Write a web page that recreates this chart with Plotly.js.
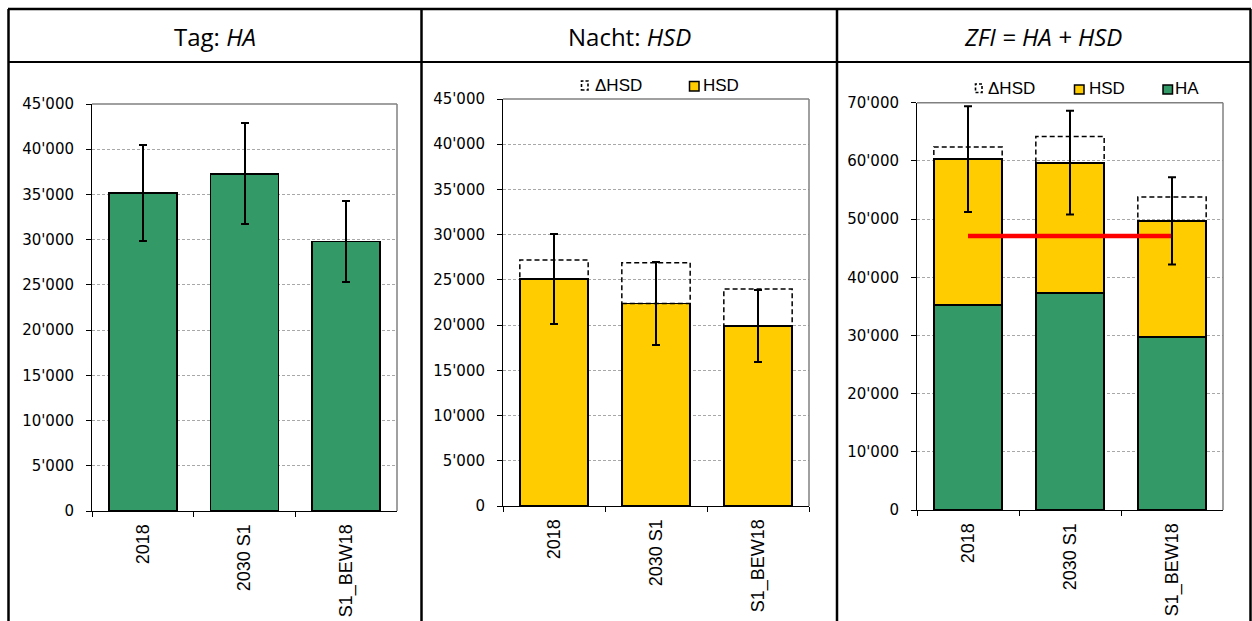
<!DOCTYPE html>
<html>
<head>
<meta charset="utf-8">
<script src="https://cdn.plot.ly/plotly-3.0.1.min.js"></script>
<style>
  html, body { margin: 0; padding: 0; background: #ffffff; }
  #chart { width: 1252px; height: 621px; }
</style>
</head>
<body>
<div id="chart"></div>
<script>
// Scenario categories
const categories = ['2018', '2030 S1', 'S1_BEW18'];

// Day: highly annoyed (HA)
const haValues = [35200, 37300, 29800];
const haError = [5300, 5600, 4450];

// Night: highly sleep disturbed (HSD)
const hsdValues = [25100, 22400, 19900];
const hsdError = [5000, 4550, 4000];
const deltaHsd = [2100, 4500, 4100];

// Combined ZFI = HA + HSD
const zfiError = [9100, 8900, 7500];
const zfiReference = 47100;

// Texts
const panelTitles = ['Tag: <i>HA</i>', 'Nacht: <i>HSD</i>', '<i>ZFI = HA + HSD</i>'];
const legendLabels = ['ΔHSD', 'HSD', 'HA'];

const W = 1252, H = 621;
const GREEN = '#339966';
const YELLOW = '#FFCC00';
const BAR_W = 0.67;

const px = x => x / W;
const py = y => 1 - y / H;

// Plot-area boxes in pixels: [left, right, top, bottom]
const boxes = [
  [92, 397, 104, 511],
  [503, 809, 99, 506],
  [917, 1223, 102.7, 510]
];

const zfiTotals = haValues.map((v, i) => v + hsdValues[i]);

const errStyle = arr => ({ type: 'data', array: arr, visible: true, color: '#000', thickness: 2, width: 4 });
const barLine = { color: '#000', width: 1.8 };

const traces = [
  { type: 'bar', x: categories, y: haValues, xaxis: 'x', yaxis: 'y', width: BAR_W,
    marker: { color: GREEN, line: barLine }, error_y: errStyle(haError), hoverinfo: 'y' },
  { type: 'bar', x: categories, y: hsdValues, xaxis: 'x2', yaxis: 'y2', width: BAR_W,
    marker: { color: YELLOW, line: barLine }, error_y: errStyle(hsdError), hoverinfo: 'y' },
  { type: 'bar', x: categories, y: haValues, xaxis: 'x3', yaxis: 'y3', width: BAR_W,
    marker: { color: GREEN, line: barLine }, hoverinfo: 'y' },
  { type: 'bar', x: categories, y: hsdValues, xaxis: 'x3', yaxis: 'y3', width: BAR_W,
    marker: { color: YELLOW, line: barLine }, hoverinfo: 'y' },
  { type: 'scatter', mode: 'lines', x: [categories[0], categories[2]], y: [zfiReference, zfiReference],
    xaxis: 'x3', yaxis: 'y3', line: { color: '#ff0000', width: 4.5 }, hoverinfo: 'y' },
  { type: 'scatter', mode: 'markers', x: categories, y: zfiTotals, xaxis: 'x3', yaxis: 'y3',
    marker: { size: 2, opacity: 0 }, error_y: errStyle(zfiError), hoverinfo: 'y' }
];

function yAxis(i, max, step) {
  const b = boxes[i];
  return {
    domain: [py(b[3]), py(b[2])], range: [0, max], dtick: step, tick0: 0,
    tickformat: ',', showline: true, linecolor: '#000', linewidth: 1,
    ticks: 'outside', ticklen: 5, tickcolor: '#000', tickwidth: 1,
    showgrid: true, gridcolor: '#a8a8a8', gridwidth: 1, griddash: '3px,2px',
    zeroline: false, ticklabelstandoff: 9,
    tickfont: { family: 'DejaVu Sans, Arial, sans-serif', size: 15, color: '#000' },
    anchor: i === 0 ? 'x' : 'x' + (i + 1), fixedrange: true
  };
}
function xAxis(i) {
  const b = boxes[i];
  return {
    domain: [px(b[0]), px(b[1])], type: 'category', range: [-0.5, 2.5],
    tickson: 'boundaries', ticks: 'outside', ticklen: 5, tickcolor: '#000', tickwidth: 1,
    showline: true, linecolor: '#000', linewidth: 1, showgrid: false, tickangle: -90,
    ticklabelstandoff: 5,
    tickfont: { family: 'Liberation Sans, Arial, sans-serif', size: 18, color: '#000' },
    anchor: i === 0 ? 'y' : 'y' + (i + 1), fixedrange: true
  };
}

const shapes = [];
const annotations = [];
const black = { color: '#000', width: 2.5 };

// Table frame
shapes.push({ type: 'line', xref: 'paper', yref: 'paper', x0: px(8), x1: px(1251), y0: py(9), y1: py(9), line: black });
shapes.push({ type: 'line', xref: 'paper', yref: 'paper', x0: px(8.5), x1: px(8.5), y0: py(9), y1: 0, line: black });
shapes.push({ type: 'line', xref: 'paper', yref: 'paper', x0: px(1250.5), x1: px(1250.5), y0: py(9), y1: 0, line: black });
shapes.push({ type: 'line', xref: 'paper', yref: 'paper', x0: px(421.5), x1: px(421.5), y0: py(9), y1: 0, line: black });
shapes.push({ type: 'line', xref: 'paper', yref: 'paper', x0: px(837), x1: px(837), y0: py(9), y1: 0, line: black });
shapes.push({ type: 'line', xref: 'paper', yref: 'paper', x0: px(8), x1: px(1251), y0: py(62), y1: py(62), line: { color: '#000', width: 1.8 } });

// Header titles
const titleCenters = [215, 629.5, 1043];
panelTitles.forEach((t, i) => annotations.push({
  xref: 'paper', yref: 'paper', x: px(titleCenters[i]), y: py(36), xanchor: 'center', yanchor: 'middle',
  text: t, showarrow: false, font: { family: 'Open Sans, Noto Sans, sans-serif', size: 24, color: '#000' }
}));

// Plot-area border (top and right)
boxes.forEach(b => {
  shapes.push({ type: 'line', xref: 'paper', yref: 'paper', x0: px(b[0]), x1: px(b[1]), y0: py(b[2]), y1: py(b[2]),
    line: { color: '#808080', width: 1.5 } });
  shapes.push({ type: 'line', xref: 'paper', yref: 'paper', x0: px(b[1]), x1: px(b[1]), y0: py(b[2]), y1: py(b[3]),
    line: { color: '#808080', width: 1.5 } });
});

// Dashed ΔHSD boxes on top of the HSD bars
const dashLine = { color: '#000', width: 1.5, dash: '5px,3px' };
categories.forEach((c, i) => {
  shapes.push({ type: 'rect', xref: 'x2', yref: 'y2', x0: i - BAR_W / 2, x1: i + BAR_W / 2,
    y0: hsdValues[i], y1: hsdValues[i] + deltaHsd[i], line: dashLine, fillcolor: 'rgba(0,0,0,0)' });
  shapes.push({ type: 'rect', xref: 'x3', yref: 'y3', x0: i - BAR_W / 2, x1: i + BAR_W / 2,
    y0: zfiTotals[i], y1: zfiTotals[i] + deltaHsd[i], line: dashLine, fillcolor: 'rgba(0,0,0,0)' });
});

// Legends
const legendFont = { family: 'Liberation Sans, Arial, sans-serif', size: 17, color: '#000' };
function legendItem(sym, textX, textY, label, kind) {
  const l = { xref: 'paper', yref: 'paper', type: 'rect', x0: px(sym[0]), x1: px(sym[1]), y0: py(sym[3]), y1: py(sym[2]) };
  if (kind === 'delta') { l.line = { color: '#000', width: 1.6, dash: '3px,2px' }; l.fillcolor = 'rgba(0,0,0,0)'; }
  else { l.line = { color: '#000', width: 1.5 }; l.fillcolor = kind === 'hsd' ? YELLOW : GREEN; }
  shapes.push(l);
  annotations.push({ xref: 'paper', yref: 'paper', x: px(textX), y: py(textY), xanchor: 'left', yanchor: 'middle',
    text: label, showarrow: false, font: legendFont });
}
legendItem([581.5, 588, 81, 90], 593, 86, legendLabels[0], 'delta');
legendItem([689.5, 699, 81.5, 91], 701, 86, legendLabels[1], 'hsd');
legendItem([975.5, 982, 84, 92.5], 986, 89, legendLabels[0], 'delta');
legendItem([1074.5, 1084, 85, 94], 1087, 89, legendLabels[1], 'hsd');
legendItem([1163, 1172.5, 85, 94], 1173, 89, legendLabels[2], 'ha');

const layout = {
  width: W, height: H, margin: { l: 0, r: 0, t: 0, b: 0 },
  paper_bgcolor: '#ffffff', plot_bgcolor: '#ffffff',
  barmode: 'stack', showlegend: false, separators: ".'",
  xaxis: xAxis(0), yaxis: yAxis(0, 45000, 5000),
  xaxis2: xAxis(1), yaxis2: yAxis(1, 45000, 5000),
  xaxis3: xAxis(2), yaxis3: yAxis(2, 70000, 10000),
  shapes: shapes, annotations: annotations
};

Plotly.newPlot('chart', traces, layout, { displayModeBar: false, staticPlot: true });
</script>
</body>
</html>
